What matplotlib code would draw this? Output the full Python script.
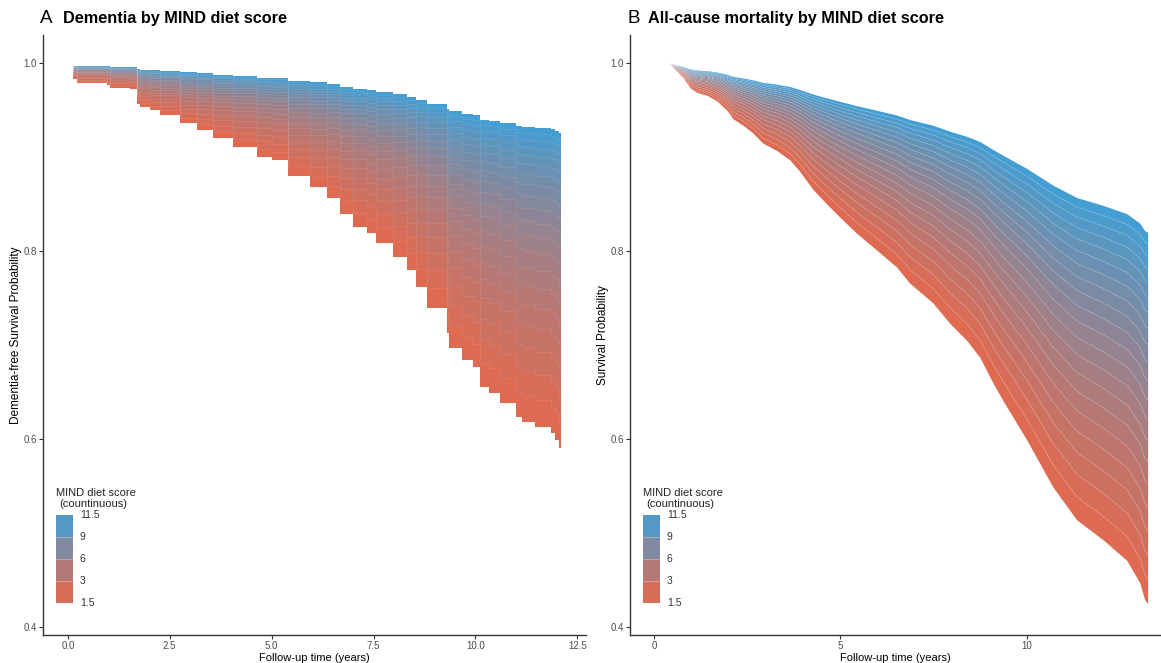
import matplotlib
matplotlib.use("Agg")
import matplotlib.pyplot as plt
import numpy as np
from matplotlib.colors import LinearSegmentedColormap
from matplotlib.patches import Rectangle

plt.rcParams['font.family'] = ['Liberation Sans', 'DejaVu Sans']

# lowest-score (MIND 1.5) survival curves, read at step points
time_a = [0.05, 0.12, 0.22, 0.96, 1.03, 1.52, 1.69, 1.76, 2.01, 2.25, 2.75, 3.16,
          3.55, 4.04, 4.63, 5.02, 5.39, 5.93, 6.35, 6.67, 6.99, 7.33, 7.57, 7.97,
          8.31, 8.55, 8.80, 9.29, 9.36, 9.66, 9.93, 10.10, 10.34, 10.59, 11.00,
          11.15, 11.45, 11.86, 11.95, 12.06, 12.10]
surv_a = [1.000, 0.983, 0.979, 0.977, 0.974, 0.973, 0.957, 0.953, 0.950, 0.945,
          0.936, 0.929, 0.920, 0.911, 0.900, 0.897, 0.880, 0.868, 0.857, 0.840,
          0.826, 0.819, 0.809, 0.794, 0.780, 0.762, 0.740, 0.713, 0.697, 0.684,
          0.677, 0.655, 0.649, 0.638, 0.623, 0.618, 0.613, 0.606, 0.599, 0.590,
          0.588]
hr_a = 0.825  # hazard ratio per MIND point, dementia

time_b = [0.08, 0.43, 0.51, 0.78, 0.97, 1.15, 1.42, 1.69, 1.96, 2.12, 2.39, 2.65,
          2.92, 3.30, 3.65, 3.91, 4.26, 4.64, 4.99, 5.44, 5.98, 6.51, 6.86, 7.48,
          7.94, 8.39, 8.74, 9.09, 9.36, 10.00, 10.70, 11.34, 12.04, 12.68, 13.03,
          13.16, 13.24]
surv_b = [1.000, 1.000, 0.996, 0.985, 0.974, 0.969, 0.966, 0.960, 0.950, 0.941,
          0.934, 0.926, 0.915, 0.907, 0.897, 0.885, 0.866, 0.850, 0.836, 0.819,
          0.801, 0.783, 0.766, 0.745, 0.723, 0.705, 0.687, 0.660, 0.641, 0.599,
          0.549, 0.514, 0.493, 0.471, 0.447, 0.429, 0.425]
hr_b = 0.864  # hazard ratio per MIND point, all-cause mortality

scores = [1.5, 2.0, 2.5, 3.0, 3.5, 4.0, 4.5, 5.0, 5.5, 6.0, 6.5, 7.0, 7.5, 8.0,
          8.5, 9.0, 9.5, 10.0, 10.5, 11.0, 11.5]
legend_breaks = [11.5, 9, 6, 3, 1.5]
legend_labels = ["11.5", "9", "6", "3", "1.5"]

cmap = LinearSegmentedColormap.from_list("mind", ["#e3694f", "#3f9fd6"])
norm = lambda s: (s - 1.5) / 10.0


def draw_panel(ax, t, s_low, hr, step):
    t = np.asarray(t)
    s_low = np.asarray(s_low)
    curves = [s_low ** (hr ** (sc - scores[0])) for sc in scores]
    kw = dict(step='post') if step else {}
    ds = 'steps-post' if step else 'default'
    for i in range(len(scores) - 1):
        mid = 0.5 * (scores[i] + scores[i + 1])
        ax.fill_between(t, curves[i], curves[i + 1], color=cmap(norm(mid)),
                        linewidth=0, **kw)
    for c in curves[1:-1]:
        ax.plot(t, c, color='white', alpha=0.12, lw=0.5, drawstyle=ds)
    for sp in ['top', 'right']:
        ax.spines[sp].set_visible(False)
    for sp in ['left', 'bottom']:
        ax.spines[sp].set_color('#333333')
        ax.spines[sp].set_linewidth(1.0)
    ax.set_ylim(0.3915, 1.03)
    ax.set_yticks([0.4, 0.6, 0.8, 1.0])
    ax.set_yticklabels(["0.4", "0.6", "0.8", "1.0"])
    ax.tick_params(colors='#333333', labelcolor='#4d4d4d', labelsize=7,
                   length=3, width=0.8, pad=1.5)
    ax.set_xlabel("Follow-up time (years)", fontsize=8, va='center')
    ax.xaxis.set_label_coords(0.5, -0.039)


def draw_legend(fig, left):
    lax = fig.add_axes([left, 0.0905, 0.0517, 0.1327])
    lax.set_xlim(0, 1)
    lax.set_ylim(0, 4)
    lax.axis('off')
    for i in range(4):
        mid = 0.5 * (legend_breaks[i] + legend_breaks[i + 1])
        lax.add_patch(Rectangle((0, 3 - i), 0.283, 1, color=cmap(norm(mid)),
                                lw=0))
        if i > 0:
            lax.plot([0, 0.283], [4 - i, 4 - i], color='white', alpha=0.35, lw=0.6)
    for i, lab in enumerate(legend_labels):
        lax.text(0.4, 4 - i, lab, fontsize=7.5, color='#333333',
                 va='center', ha='left')
    lax.text(0.0, 1.25, "MIND diet score", fontsize=8, color='#222222',
             ha='left', va='center', transform=lax.transAxes)
    lax.text(0.05, 1.125, "(countinuous)", fontsize=8, color='#222222',
             ha='left', va='center', transform=lax.transAxes)


fig = plt.figure(figsize=(11.61, 6.63), dpi=100)

ax_a = fig.add_axes([0.0370, 0.0422, 0.4677, 0.9050])
draw_panel(ax_a, time_a, surv_a, hr_a, step=True)
ax_a.set_xlim(-0.61, 12.71)
ax_a.set_xticks([0, 2.5, 5, 7.5, 10, 12.5])
ax_a.set_xticklabels(["0.0", "2.5", "5.0", "7.5", "10.0", "12.5"])
ax_a.set_ylabel("Dementia-free Survival Probability", fontsize=8.5, labelpad=1)

ax_b = fig.add_axes([0.5426, 0.0422, 0.4565, 0.9050])
draw_panel(ax_b, time_b, surv_b, hr_b, step=False)
ax_b.set_xlim(-0.64, 13.57)
ax_b.set_xticks([0, 5, 10])
ax_b.set_xticklabels(["0", "5", "10"])
ax_b.set_ylabel("Survival Probability", fontsize=8.5, labelpad=1)

fig.text(0.0345, 0.972, "A", fontsize=13.5, va='center', ha='left')
fig.text(0.0543, 0.972, "Dementia by MIND diet score", fontsize=11.7,
         fontweight='bold', va='center', ha='left')
fig.text(0.5409, 0.972, "B", fontsize=13.5, va='center', ha='left')
fig.text(0.5581, 0.972, "All-cause mortality by MIND diet score", fontsize=11.7,
         fontweight='bold', va='center', ha='left')

draw_legend(fig, 0.0482)
draw_legend(fig, 0.5538)

fig.savefig("out.png", dpi=100)
